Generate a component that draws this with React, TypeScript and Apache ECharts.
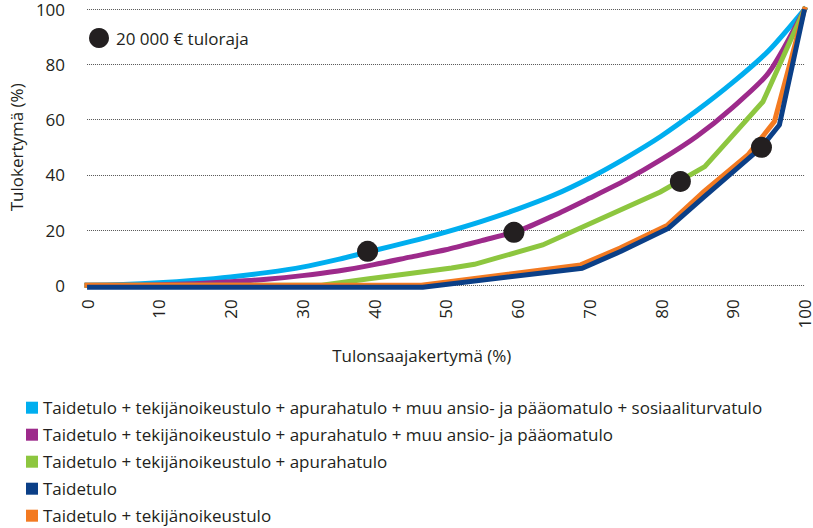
import React, { useEffect, useRef } from "react";
import * as echarts from "echarts";

// Lorenz-type curves: x = income earners cumulative %, y = income cumulative %
const xSteps = [0, 5, 10, 15, 20, 25, 30, 35, 40, 45, 50, 55, 60, 65, 70, 75, 80, 85, 90, 95, 100];
const kaikkiTulot = [0, 0.3, 0.9, 1.8, 3.0, 4.6, 6.6, 9.4, 12.6, 15.8, 19.3, 23.2, 27.6, 32.6, 38.8, 46.0, 54.0, 63.3, 73.5, 85.0, 100];
const ilmanSosiaaliturvaa = [0, 0, 0.2, 0.6, 1.3, 2.2, 3.5, 5.2, 7.5, 10.2, 12.9, 16.2, 19.6, 25.2, 31.5, 38.0, 45.5, 54.0, 64.5, 77.0, 100];

const apurahaX = [0, 32.7, 39.3, 45, 50.8, 54.0, 63.5, 79.9, 86.1, 94.2, 100];
const apurahaY = [0, 0, 2.4, 4.3, 6.3, 7.6, 14.6, 33.8, 43.0, 66.5, 100];

const tekijaX = [0, 46.6, 68.8, 74.3, 80.9, 86.0, 92.1, 95.8, 100];
const tekijaY = [0, 0, 7.4, 13.5, 21.8, 34.0, 47.2, 59.3, 100];

const taideX = [0, 46.8, 69.0, 74.5, 81.0, 86.0, 94.0, 96.5, 100];
const taideY = [-0.7, -0.7, 6.2, 12.4, 20.6, 32.0, 50.0, 58.1, 100];

const rajaX = [39.1, 59.5, 82.7, 94.0];
const rajaY = [12.3, 19.2, 37.6, 50.0];

const yTicks = [0, 20, 40, 60, 80, 100];

const names = {
  kaikki: "Taidetulo + tekijänoikeustulo + apurahatulo + muu ansio- ja pääomatulo + sosiaaliturvatulo",
  ilmanSos: "Taidetulo + tekijänoikeustulo + apurahatulo + muu ansio- ja pääomatulo",
  apuraha: "Taidetulo + tekijänoikeustulo + apurahatulo",
  taide: "Taidetulo",
  tekija: "Taidetulo + tekijänoikeustulo",
  raja: "20 000 € tuloraja",
};

const legendOrder = [names.kaikki, names.ilmanSos, names.apuraha, names.taide, names.tekija];

const colors = {
  kaikki: "#00aeef",
  ilmanSos: "#9d2a8b",
  apuraha: "#8dc63f",
  taide: "#0b3f87",
  tekija: "#f37a21",
  raja: "#231f20",
};

const FONT = "'Open Sans', 'Noto Sans', sans-serif";
const TXT = "#231f20";
const FS = 17;

const pairs = (xs: number[], ys: number[]) => xs.map((x, i) => [x, ys[i]]);

export default function App() {
  const ref = useRef<HTMLDivElement>(null);
  useEffect(() => {
    if (!ref.current) return;
    const chart = echarts.init(ref.current, undefined, { renderer: "svg" });
    const lineBase = (name: string, data: number[][], color: string, cap: string, smooth: number | boolean) => ({
      name,
      type: "line",
      data,
      symbol: "none",
      clip: false,
      smooth,
      lineStyle: { width: 5, color, cap, join: "miter" },
      itemStyle: { color },
    });
    const bottomLegends = legendOrder.map((n, i) => ({
      data: [n],
      orient: "vertical",
      left: 26,
      top: 398.7 + i * 27,
      padding: 0,
      itemWidth: 12,
      itemHeight: 12,
      icon: "rect",
      textStyle: { fontSize: FS, color: TXT, fontFamily: FONT, lineHeight: 18 },
      selectedMode: false,
    }));
    chart.setOption({
      animation: false,
      textStyle: { fontFamily: FONT, color: TXT },
      grid: { left: 84, right: 8, top: 9.3, bottom: 242.7, containLabel: false },
      legend: [
        {
          data: [names.raja],
          orient: "vertical",
          left: 89,
          top: 28,
          padding: 0,
          itemWidth: 20,
          itemHeight: 20,
          icon: "circle",
          textStyle: { fontSize: FS, color: TXT, fontFamily: FONT, padding: [0, 0, 0, 2] },
          selectedMode: false,
        },
        ...bottomLegends,
      ],
      xAxis: {
        type: "value",
        min: 0,
        max: 100,
        interval: 10,
        name: "Tulonsaajakertymä (%)",
        nameLocation: "middle",
        nameGap: 62,
        nameTextStyle: { fontSize: FS, color: TXT, fontFamily: FONT, padding: [0, 48, 0, 0] },
        axisLine: { show: false },
        axisTick: { show: false },
        splitLine: { show: false },
        axisLabel: { rotate: 90, fontSize: FS, lineHeight: 14, color: TXT, margin: 14, fontFamily: FONT },
      },
      yAxis: {
        type: "value",
        min: yTicks[0],
        max: yTicks[yTicks.length - 1],
        interval: 20,
        name: "Tulokertymä (%)",
        nameLocation: "middle",
        nameGap: 62,
        nameTextStyle: { fontSize: FS, color: TXT, fontFamily: FONT },
        axisLine: { show: false },
        axisTick: { show: false },
        axisLabel: { fontSize: FS, lineHeight: 14, color: TXT, margin: 22, fontFamily: FONT },
        splitLine: { show: true, lineStyle: { type: [1, 1], color: "#555", width: 1 } },
      },
      series: [
        lineBase(names.kaikki, pairs(xSteps, kaikkiTulot), colors.kaikki, "square", 0.25),
        lineBase(names.ilmanSos, pairs(xSteps, ilmanSosiaaliturvaa), colors.ilmanSos, "square", 0.25),
        lineBase(names.apuraha, pairs(apurahaX, apurahaY), colors.apuraha, "square", false),
        lineBase(names.tekija, pairs(tekijaX, tekijaY), colors.tekija, "square", false),
        lineBase(names.taide, pairs(taideX, taideY), colors.taide, "butt", false),
        {
          name: names.raja,
          type: "scatter",
          data: pairs(rajaX, rajaY),
          symbol: "circle",
          symbolSize: 21,
          clip: false,
          itemStyle: { color: colors.raja, opacity: 1 },
          z: 10,
        },
      ],
    });
    return () => chart.dispose();
  }, []);
  return <div ref={ref} style={{ width: 813, height: 528, position: "absolute", left: 0, top: 0 }} />;
}
